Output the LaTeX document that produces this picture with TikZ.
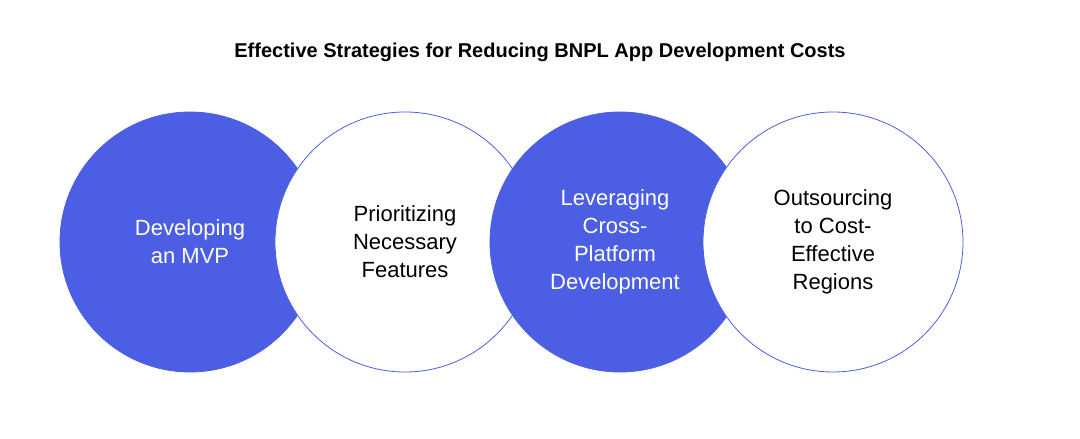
\documentclass[tikz,border=0pt]{standalone}
\usepackage{fontspec}
\setmainfont{Liberation Sans}
\definecolor{blu}{HTML}{4B5EE4}
\begin{document}
\begin{tikzpicture}[x=1pt,y=-1pt,
  circ/.style={circle,minimum size=260pt,inner sep=0pt,draw=blu,line width=0.8pt},
  lbl/.style={align=center,font=\fontsize{22}{28}\selectfont}]
\useasboundingbox (0,0) rectangle (1080,439);
\node[font=\bfseries\fontsize{20}{24}\selectfont] (t) at (540,52) {Effective Strategies for Reducing BNPL App Development Costs};
\node[circ,fill=blu] (c1) at (190,242) {};
\node[circ,fill=white] (c2) at (405,242) {};
\node[circ,fill=blu] (c3) at (620,242) {};
\node[circ,fill=white] (c4) at (833,242) {};
\node[lbl,text=white] (l1) at (c1) {Developing\\an MVP};
\node[lbl] (l2) at (c2) {Prioritizing\\Necessary\\Features};
\node[lbl,text=white] (l3) at (615,242) {Leveraging\\Cross-\\Platform\\Development};
\node[lbl] (l4) at (c4) {Outsourcing\\to Cost-\\Effective\\Regions};
\end{tikzpicture}
\end{document}
